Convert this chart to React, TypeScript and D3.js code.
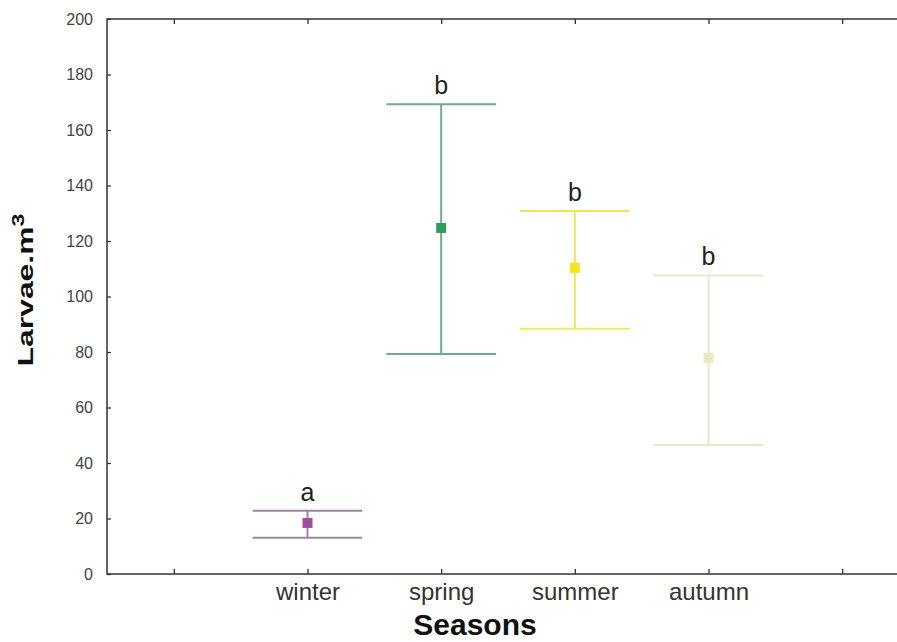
import React, { useEffect, useRef } from "react";
import * as d3 from "d3";

// category labels, index 1..4 on the x axis (0 and 5 are empty slots)
const seasons = ["winter", "spring", "summer", "autumn"];
const means = [18.4, 124.7, 110.3, 77.8];
const upper = [22.8, 169.3, 130.8, 107.6];
const lower = [13.1, 79.3, 88.4, 46.5];
const groupLetters = ["a", "b", "b", "b"];
const yTicks = [0, 20, 40, 60, 80, 100, 120, 140, 160, 180, 200];
const xTicks = [0, 1, 2, 3, 4, 5];

const lineColors = ["#9c84a2", "#6fab8d", "#eee85c", "#e7e6cf"];
const markColors = ["#9e4f9e", "#2f9c5e", "#f3e61c", "#ebe8c4"];

export default function App() {
  const ref = useRef<SVGSVGElement | null>(null);

  useEffect(() => {
    const svg = d3.select(ref.current);
    svg.selectAll("*").remove();

    const width = 897;
    const height = 642;
    const margin = { top: 19, left: 107, bottom: 574 };

    const x = d3.scaleLinear().domain([-0.5, 5.5]).range([margin.left, 909]);
    const y = d3.scaleLinear().domain([0, 200]).range([margin.bottom, margin.top]);

    svg.attr("width", width).attr("height", height);
    svg.append("rect").attr("width", width).attr("height", height).attr("fill", "#fff");

    // frame
    svg
      .append("rect")
      .attr("x", x(-0.5))
      .attr("y", y(200))
      .attr("width", x(5.5) - x(-0.5))
      .attr("height", y(0) - y(200))
      .attr("fill", "none")
      .attr("stroke", "#333")
      .attr("stroke-width", 1.5);

    // left axis
    const left = svg
      .append("g")
      .attr("transform", `translate(${margin.left},0)`)
      .call(d3.axisLeft(y).tickValues(yTicks).tickSize(-4).tickSizeOuter(0).tickPadding(14));
    left.select(".domain").remove();
    left.selectAll("line").attr("stroke", "#333").attr("stroke-width", 1.3);
    left
      .selectAll("text")
      .attr("font-family", "Liberation Sans, Arial, sans-serif")
      .attr("font-size", 16)
      .attr("fill", "#444");

    // bottom axis
    const bottom = svg
      .append("g")
      .attr("transform", `translate(0,${margin.bottom})`)
      .call(
        d3
          .axisBottom(x)
          .tickValues(xTicks)
          .tickFormat((d) => seasons[(d as number) - 1] ?? "")
          .tickSize(-5)
          .tickSizeOuter(0)
          .tickPadding(9)
      );
    bottom.select(".domain").remove();
    bottom.selectAll("line").attr("stroke", "#333").attr("stroke-width", 1.3);
    bottom
      .selectAll("text")
      .attr("font-family", "Liberation Sans, Arial, sans-serif")
      .attr("font-size", 24)
      .attr("fill", "#333");

    // top axis
    const top = svg
      .append("g")
      .attr("transform", `translate(0,${margin.top})`)
      .call(d3.axisTop(x).tickValues(xTicks).tickFormat(() => "").tickSize(-5).tickSizeOuter(0));
    top.select(".domain").remove();
    top.selectAll("line").attr("stroke", "#333").attr("stroke-width", 1.3);

    // error bars
    const capHalf = (x(1) - x(0)) * 0.41;
    const groups = svg
      .selectAll("g.bar")
      .data(seasons)
      .join("g")
      .attr("class", "bar");

    groups
      .append("line")
      .attr("x1", (_, i) => x(i + 1))
      .attr("x2", (_, i) => x(i + 1))
      .attr("y1", (_, i) => y(upper[i]))
      .attr("y2", (_, i) => y(lower[i]))
      .attr("stroke", (_, i) => lineColors[i])
      .attr("stroke-width", 2);

    [upper, lower].forEach((vals) => {
      groups
        .append("line")
        .attr("x1", (_, i) => x(i + 1) - capHalf)
        .attr("x2", (_, i) => x(i + 1) + capHalf)
        .attr("y1", (_, i) => y(vals[i]))
        .attr("y2", (_, i) => y(vals[i]))
        .attr("stroke", (_, i) => lineColors[i])
        .attr("stroke-width", 2);
    });

    const s = 10;
    groups
      .append("rect")
      .attr("x", (_, i) => x(i + 1) - s / 2)
      .attr("y", (_, i) => y(means[i]) - s / 2)
      .attr("width", s)
      .attr("height", s)
      .attr("fill", (_, i) => markColors[i]);

    groups
      .append("text")
      .attr("x", (_, i) => x(i + 1))
      .attr("y", (_, i) => y(upper[i]) - 10)
      .attr("text-anchor", "middle")
      .attr("font-family", "Liberation Sans, Arial, sans-serif")
      .attr("font-size", 25)
      .attr("fill", "#222")
      .text((_, i) => groupLetters[i]);

    // axis titles
    svg
      .append("text")
      .attr("x", 475)
      .attr("y", 635)
      .attr("text-anchor", "middle")
      .attr("font-family", "Liberation Sans, Arial, sans-serif")
      .attr("font-weight", "bold")
      .attr("font-size", 30)
      .attr("fill", "#111")
      .text("Seasons");

    const yl = svg
      .append("text")
      .attr("transform", "translate(33,290) rotate(-90) scale(1.45,1)")
      .attr("text-anchor", "middle")
      .attr("font-family", "Liberation Sans, Arial, sans-serif")
      .attr("font-weight", "bold")
      .attr("font-size", 22)
      .attr("fill", "#111");
    yl.append("tspan").text("Larvae.m");
    yl.append("tspan").attr("dy", -9).attr("font-size", 16).text("3");
  }, []);

  return <svg ref={ref} style={{ position: "absolute", left: 0, top: 0, display: "block" }} />;
}
